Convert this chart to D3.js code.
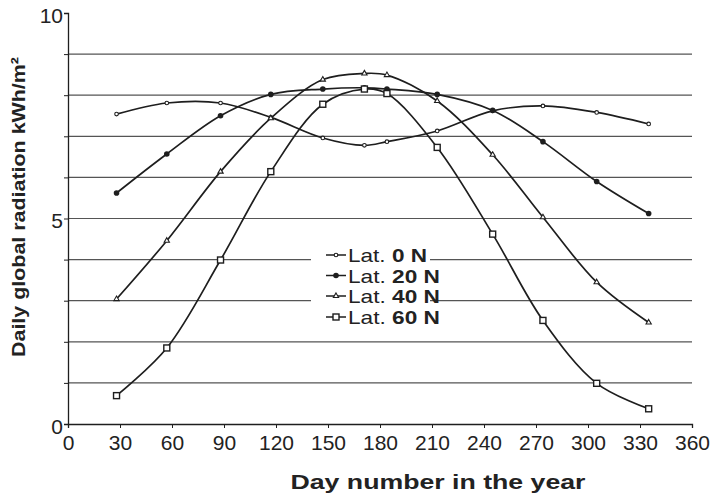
<!DOCTYPE html>
<html>
<head>
<meta charset="utf-8">
<script src="https://cdn.jsdelivr.net/npm/d3@7"></script>
<style>
  html, body { margin: 0; padding: 0; background: #fff; }
  svg { display: block; }
  text { font-family: "Liberation Sans", Arial, sans-serif; fill: #222; }
</style>
</head>
<body>
<svg id="chart" width="712" height="494"></svg>
<script>
// ---- data ----
const days = [28, 57, 88, 117, 147, 171, 184, 213, 245, 274, 305, 335];
const lat0  = [7.54, 7.81, 7.81, 7.46, 6.96, 6.78, 6.87, 7.13, 7.62, 7.74, 7.58, 7.30];
const lat20 = [5.62, 6.57, 7.50, 8.02, 8.15, 8.18, 8.15, 8.02, 7.63, 6.87, 5.90, 5.12];
const lat40 = [3.04, 4.46, 6.14, 7.44, 8.38, 8.53, 8.49, 7.86, 6.55, 5.03, 3.45, 2.47];
const lat60 = [0.69, 1.85, 3.99, 6.14, 7.78, 8.15, 8.04, 6.73, 4.62, 2.52, 0.99, 0.37];
const seriesNames = ["Lat. 0 N", "Lat. 20 N", "Lat. 40 N", "Lat. 60 N"];
const xTicks = [0, 30, 60, 90, 120, 150, 180, 210, 240, 270, 300, 330, 360];
const yTickLabels = [0, 5, 10];
const gridValues = [1, 2, 3, 4, 5, 6, 7, 8, 9];

const seriesValues = [lat0, lat20, lat40, lat60];
const markerTypes = ["dot", "filled", "triangle", "square"];

const svg = d3.select("#chart");
const x = d3.scaleLinear().domain([0, 360]).range([68, 692]);
const y = d3.scaleLinear().domain([0, 10]).range([424, 13]);
const ink = "#1e1e1e";

// gridlines
svg.append("g").selectAll("line").data(gridValues).join("line")
  .attr("x1", x(0)).attr("x2", x(360))
  .attr("y1", d => y(d)).attr("y2", d => y(d))
  .attr("stroke", "#555").attr("stroke-width", 1.2);

// legend background (hides gridlines behind legend)
const lg = { x0: 311, x1: 430, y0: 244, y1: 322 };
svg.append("rect").attr("x", lg.x0).attr("y", lg.y0)
  .attr("width", lg.x1 - lg.x0).attr("height", lg.y1 - lg.y0).attr("fill", "#fff");

// axes
const xAxis = svg.append("g").attr("transform", `translate(0,${y(0)})`)
  .call(d3.axisBottom(x).tickValues(xTicks).tickSize(4).tickFormat(d3.format("d")));
xAxis.attr("font-size", null).attr("font-family", null);
xAxis.select(".domain").attr("stroke", ink).attr("stroke-width", 1.3);
xAxis.selectAll(".tick line").attr("stroke", ink);
xAxis.selectAll(".tick text").style("font-size", "21px").attr("y", 11)
  .style("font-family", "'Liberation Sans', Arial, sans-serif").attr("fill", "#222");

const yAxis = svg.append("g").attr("transform", `translate(${x(0)},0)`)
  .call(d3.axisLeft(y).tickValues(d3.range(0, 11)).tickSize(4)
    .tickFormat(d => yTickLabels.includes(d) ? d : ""));
yAxis.attr("font-size", null).attr("font-family", null);
yAxis.select(".domain").attr("stroke", ink).attr("stroke-width", 1.3);
yAxis.selectAll(".tick line").attr("stroke", ink);
yAxis.selectAll(".tick text").style("font-size", "21px").attr("x", -5).attr("dy", "0.45em")
  .style("font-family", "'Liberation Sans', Arial, sans-serif").attr("fill", "#222");

// axis titles
svg.append("text")
  .attr("transform", "translate(25,207) rotate(-90)")
  .attr("text-anchor", "middle").attr("font-weight", "bold").attr("font-size", 19)
  .attr("textLength", 300).attr("lengthAdjust", "spacingAndGlyphs")
  .text("Daily global radiation kWh/m²");
svg.append("text")
  .attr("x", 438).attr("y", 489)
  .attr("text-anchor", "middle").attr("font-weight", "bold").attr("font-size", 20)
  .attr("textLength", 295).attr("lengthAdjust", "spacingAndGlyphs")
  .text("Day number in the year");

// lines
const line = d3.line().x(d => x(d[0])).y(d => y(d[1])).curve(d3.curveCatmullRom.alpha(0.5));

function drawMarker(g, type, cx, cy) {
  if (type === "dot") {
    g.append("circle").attr("cx", cx).attr("cy", cy).attr("r", 1.8)
      .attr("fill", "#fff").attr("stroke", ink).attr("stroke-width", 1.1);
  } else if (type === "filled") {
    g.append("circle").attr("cx", cx).attr("cy", cy).attr("r", 2.8)
      .attr("fill", ink);
  } else if (type === "triangle") {
    g.append("path").attr("d", d3.symbol(d3.symbolTriangle, 12)())
      .attr("transform", `translate(${cx},${cy})`)
      .attr("fill", "#fff").attr("stroke", ink).attr("stroke-width", 1.1);
  } else {
    g.append("rect").attr("x", cx - 3).attr("y", cy - 3).attr("width", 6).attr("height", 6)
      .attr("fill", "#fff").attr("stroke", ink).attr("stroke-width", 1.4);
  }
}

seriesValues.forEach((vals, i) => {
  const pts = days.map((d, j) => [d, vals[j]]);
  svg.append("path").attr("d", line(pts)).attr("fill", "none")
    .attr("stroke", ink).attr("stroke-width", 1.7);
  const g = svg.append("g");
  pts.forEach(p => drawMarker(g, markerTypes[i], x(p[0]), y(p[1])));
});

// legend
const rowBase = [262, 282.5, 303, 324];
const textLens = [79, 92, 92, 92];
seriesNames.forEach((name, i) => {
  const by = rowBase[i];
  const cy = by - 7;
  svg.append("line").attr("x1", 326).attr("x2", 346).attr("y1", cy).attr("y2", cy)
    .attr("stroke", ink).attr("stroke-width", 1.5);
  drawMarker(svg.append("g"), markerTypes[i], 336, cy);
  const parts = name.split(". ");
  const t = svg.append("text").attr("x", 348).attr("y", by).attr("font-size", 19)
    .attr("textLength", textLens[i]).attr("lengthAdjust", "spacingAndGlyphs");
  t.append("tspan").text(parts[0] + ". ");
  t.append("tspan").attr("font-weight", "bold").text(parts[1]);
});
</script>
</body>
</html>
